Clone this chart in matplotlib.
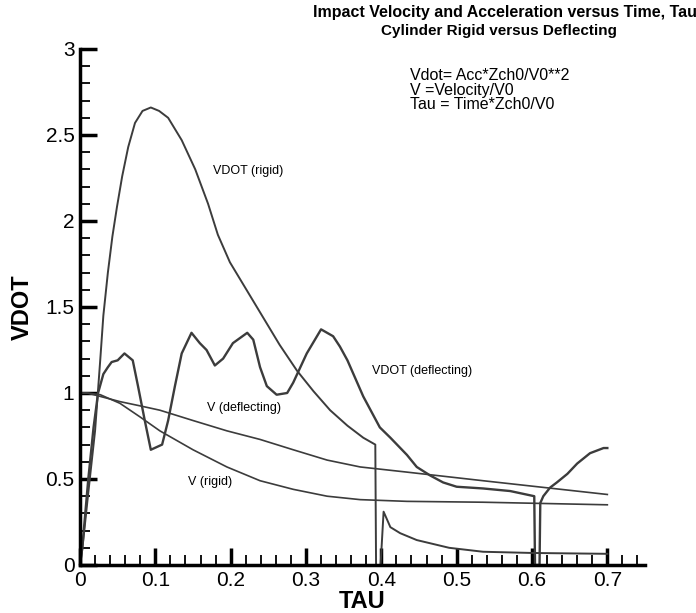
import matplotlib
matplotlib.use("Agg")
import matplotlib.pyplot as plt
from matplotlib.ticker import MultipleLocator

plt.rcParams['font.family'] = ['Liberation Sans', 'DejaVu Sans']

# VDOT (rigid)
tau_vr = [0.0, 0.003, 0.011, 0.020, 0.027, 0.031, 0.037, 0.043, 0.049, 0.056, 0.064, 0.073,
          0.083, 0.094, 0.105, 0.117, 0.135, 0.153, 0.170, 0.183, 0.199, 0.221, 0.243,
          0.265, 0.288, 0.310, 0.332, 0.355, 0.376, 0.392, 0.393, 0.399, 0.403, 0.412,
          0.425, 0.447, 0.490, 0.535, 0.600, 0.700]
vdot_r = [0.0, 0.09, 0.42, 0.78, 1.20, 1.45, 1.70, 1.91, 2.08, 2.26, 2.43, 2.57,
          2.64, 2.66, 2.64, 2.60, 2.47, 2.30, 2.10, 1.92, 1.76, 1.60, 1.44,
          1.28, 1.13, 1.01, 0.90, 0.81, 0.74, 0.70, 0.0, 0.0, 0.31, 0.22,
          0.185, 0.145, 0.10, 0.077, 0.07, 0.065]

# VDOT (deflecting)
tau_vd = [0.0, 0.003, 0.011, 0.018, 0.024, 0.031, 0.037, 0.042, 0.050, 0.059, 0.070, 0.077,
          0.086, 0.094, 0.109, 0.117, 0.126, 0.135, 0.148, 0.159, 0.168, 0.179, 0.190,
          0.203, 0.222, 0.230, 0.239, 0.248, 0.261, 0.275, 0.283, 0.301, 0.320, 0.336,
          0.345, 0.355, 0.376, 0.398, 0.412, 0.434, 0.447, 0.465, 0.482, 0.500, 0.535,
          0.571, 0.603, 0.604, 0.610, 0.611, 0.615, 0.624, 0.633, 0.647, 0.660, 0.677,
          0.695, 0.700]
vdot_d = [0.0, 0.10, 0.50, 0.80, 1.00, 1.11, 1.15, 1.18, 1.19, 1.23, 1.19, 1.04,
          0.84, 0.67, 0.70, 0.84, 1.04, 1.23, 1.35, 1.29, 1.25, 1.16, 1.20,
          1.29, 1.35, 1.31, 1.15, 1.04, 0.99, 1.00, 1.06, 1.23, 1.37, 1.33,
          1.27, 1.19, 0.98, 0.80, 0.74, 0.64, 0.57, 0.52, 0.48, 0.455, 0.445,
          0.43, 0.40, 0.0, 0.0, 0.36, 0.40, 0.45, 0.48, 0.53, 0.59, 0.65,
          0.68, 0.68]

# V (rigid)
tau_v = [0.0, 0.010, 0.027, 0.053, 0.080, 0.106, 0.150, 0.195, 0.239, 0.283, 0.328,
         0.372, 0.403, 0.434, 0.535, 0.700]
v_r = [1.0, 1.0, 0.99, 0.94, 0.86, 0.78, 0.67, 0.57, 0.49, 0.44, 0.40,
       0.38, 0.375, 0.37, 0.365, 0.35]

# V (deflecting)
v_d = [1.0, 1.0, 0.98, 0.95, 0.925, 0.90, 0.84, 0.78, 0.73, 0.67, 0.61,
       0.57, 0.555, 0.54, 0.49, 0.41]

fig = plt.figure(figsize=(6.96, 6.13), dpi=100)
ax = fig.add_axes([80/696, 1-565/613, (645-80)/696, (565-49)/613])

col = '#3c3c3c'
ax.plot(tau_vr, vdot_r, color=col, lw=1.4)
ax.plot(tau_vd, vdot_d, color=col, lw=1.7)
ax.plot(tau_v, v_r, color=col, lw=1.2)
ax.plot(tau_v, v_d, color=col, lw=1.2)

ax.set_xlim(0, 0.75)
ax.set_ylim(0, 3)
for s in ['top', 'right']:
    ax.spines[s].set_visible(False)
for s in ['left', 'bottom']:
    ax.spines[s].set_linewidth(2.5)
    ax.spines[s].set_color('black')

ax.xaxis.set_minor_locator(MultipleLocator(0.02))
ax.yaxis.set_minor_locator(MultipleLocator(0.1))
ax.set_xticks([0, 0.1, 0.2, 0.3, 0.4, 0.5, 0.6, 0.7])
ax.set_xticklabels(['0', '0.1', '0.2', '0.3', '0.4', '0.5', '0.6', '0.7'])
ax.set_yticks([0, 0.5, 1, 1.5, 2, 2.5, 3])
ax.set_yticklabels(['0', '0.5', '1', '1.5', '2', '2.5', '3'])
ax.tick_params(which='major', direction='in', length=12, width=2.5, labelsize=15, pad=4)
ax.tick_params(which='minor', direction='in', length=7, width=1.3)

ax.set_xlabel('TAU', fontsize=17, fontweight='bold', labelpad=0)
ax.set_ylabel('VDOT', fontsize=17, fontweight='bold', labelpad=8)

ax.text(0.176, 2.29, 'VDOT (rigid)', fontsize=9, va='center', ha='left')
ax.text(0.387, 1.13, 'VDOT (deflecting)', fontsize=9, va='center', ha='left')
ax.text(0.169, 0.91, 'V (deflecting)', fontsize=9, va='center', ha='left')
ax.text(0.143, 0.48, 'V (rigid)', fontsize=9, va='center', ha='left')

fig.text(410/696, 1-90/613, 'Vdot= Acc*Zch0/V0**2\nV =Velocity/V0\nTau = Time*Zch0/V0',
         fontsize=11.5, va='center', ha='left', linespacing=0.95)
fig.text(313/696, 1-13/613, 'Impact Velocity and Acceleration versus Time, Tau',
         fontsize=11.5, fontweight='bold', ha='left', va='center')
fig.text(499/696, 1-31/613, 'Cylinder Rigid versus Deflecting',
         fontsize=11, fontweight='bold', ha='center', va='center')

fig.savefig('out.png', dpi=100)
